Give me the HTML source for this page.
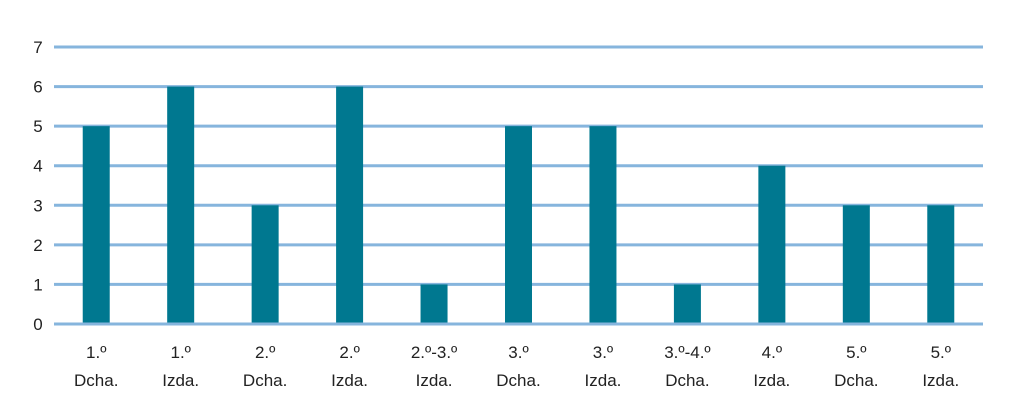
<!DOCTYPE html>
<html><head><meta charset="utf-8"><style>
body{margin:0;background:#fff;}
svg text{font-family:"Liberation Sans",sans-serif;fill:#222;}
</style></head><body>
<svg id="c" width="1012" height="414"></svg>
<script>
const categoriesL1=["1.º","1.º","2.º","2.º","2.º-3.º","3.º","3.º","3.º-4.º","4.º","5.º","5.º"];
const categoriesL2=["Dcha.","Izda.","Dcha.","Izda.","Izda.","Dcha.","Izda.","Dcha.","Izda.","Dcha.","Izda."];
const values=[5,6,3,6,1,5,5,1,4,3,3];
const yTicks=[0,1,2,3,4,5,6,7];
const svg=document.getElementById('c');
const NS="http://www.w3.org/2000/svg";
const x0=54,x1=983,yBase=324,yTop=47,yMax=7;
const band=(x1-x0)/values.length;
const y=v=>yBase-(yBase-yTop)*v/yMax;
const xc=i=>x0+band*(i+0.5);
function mk(t,a){const e=document.createElementNS(NS,t);for(const k in a)e.setAttribute(k,a[k]);svg.appendChild(e);return e;}
yTicks.forEach(t=>{
 const l=mk('line',{x1:x0,x2:x1,y1:y(t),y2:y(t),stroke:'#86b5dd','stroke-width':3});
 
 
 const tx=mk('text',{x:38,y:y(t)+6,'text-anchor':'middle','font-size':17});
 tx.textContent=t;
 
 
});
values.forEach((v,i)=>{
 const r=mk('rect',{x:xc(i)-13.5,y:y(v),width:27,height:yBase-y(v)-1.5,fill:'#007890'});
 
 
 const a=mk('text',{x:xc(i),y:358,'text-anchor':'middle','font-size':17});
 a.textContent=categoriesL1[i];
 
 
 const b=mk('text',{x:xc(i),y:386,'text-anchor':'middle','font-size':17});
 b.textContent=categoriesL2[i];
 
 
});
</script>
</body></html>
